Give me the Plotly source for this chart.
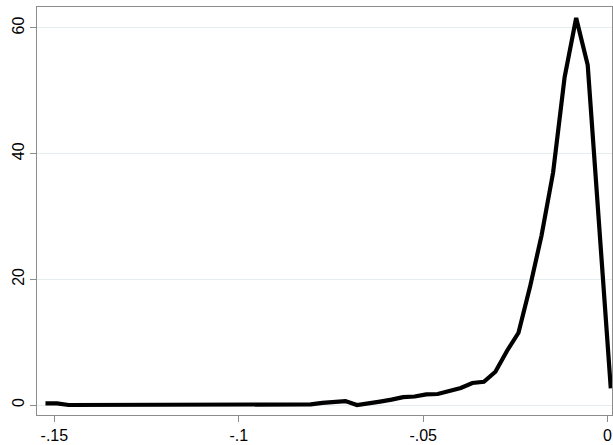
import numpy as np
import plotly.graph_objects as go

# kernel density estimate evaluated on 50 grid points
x_start = -0.1524
x_end = 0.00087
n_points = 50
density = [
    0.25, 0.25, 0.0, 0.0, 0.0, 0.0, 0.0, 0.0, 0.0, 0.0,
    0.0, 0.0, 0.0, 0.0, 0.0, 0.0, 0.0, 0.0, 0.0, 0.0,
    0.0, 0.0, 0.0, 0.1, 0.35, 0.55, 0.62, 0.0, 0.35, 0.55,
    0.85, 1.25, 1.35, 1.7, 1.75, 2.2, 2.7, 3.5, 3.7, 5.3,
    8.6, 11.5, 18.8, 27.0, 37.0, 52.2, 61.6, 54.1, 29.0, 2.65,
]
grid = np.linspace(x_start, x_end, n_points)

x_ticks = [-0.15, -0.1, -0.05, 0]
x_tick_labels = ["-.15", "-.1", "-.05", "0"]
y_ticks = [0, 20, 40, 60]
y_tick_labels = ["0", "20", "40", "60"]

fig = go.Figure()
fig.add_trace(go.Scatter(
    x=grid, y=density, mode="lines",
    line=dict(color="black", width=4.2),
    showlegend=False,
))

axis_color = "#8c8c8c"
fig.update_layout(
    width=613, height=445,
    margin=dict(l=37, r=1, t=7, b=30),
    paper_bgcolor="white", plot_bgcolor="white",
    font=dict(family="Liberation Sans, Arial, sans-serif", size=16, color="black"),
    xaxis=dict(
        range=[-0.1547, 0.0012],
        tickvals=x_ticks, ticktext=x_tick_labels,
        showgrid=False, zeroline=False,
        showline=True, linecolor=axis_color, linewidth=1, mirror=True,
        ticks="outside", ticklen=6, tickcolor=axis_color, tickwidth=1,
    ),
    yaxis=dict(
        range=[-1.59, 63.34],
        tickvals=y_ticks, ticktext=y_tick_labels,
        tickangle=-90,
        showgrid=True, gridcolor="#e4eef0", gridwidth=1,
        zeroline=False,
        showline=True, linecolor=axis_color, linewidth=1, mirror=True,
        ticks="outside", ticklen=6, tickcolor=axis_color, tickwidth=1,
    ),
)

fig.write_html(
    "out.html",
    config={"displayModeBar": False, "staticPlot": True},
    post_script="document.body.style.margin='0';document.body.style.overflow='hidden';",
)
